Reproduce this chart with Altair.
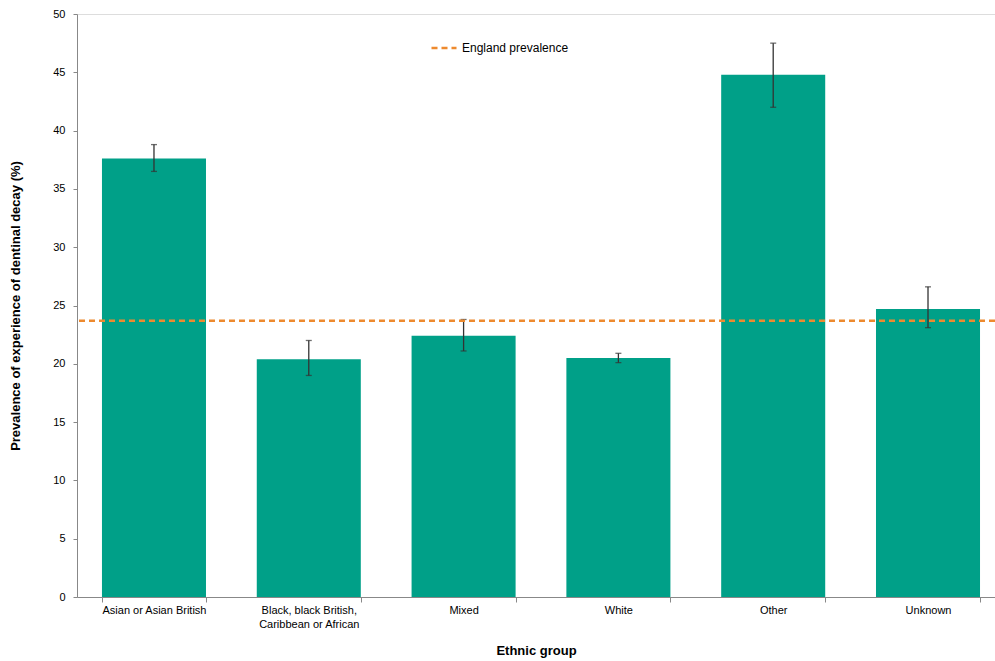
import altair as alt
import pandas as pd

groups = ["Asian or Asian British", "Black, black British, Caribbean or African",
          "Mixed", "White", "Other", "Unknown"]
prevalence = [37.6, 20.4, 22.4, 20.5, 44.8, 24.7]
lower = [36.5, 19.0, 21.1, 20.1, 42.0, 23.1]
upper = [38.8, 22.0, 23.8, 20.9, 47.5, 26.6]
england_value = [23.7]
england_label = ["England prevalence"]
y_ticks = [0, 5, 10, 15, 20, 25, 30, 35, 40, 45, 50]

FONT = "Liberation Sans"
BAR = "#00A088"
ORANGE = "#EE8A2E"

df = pd.DataFrame({"group": groups, "prevalence": prevalence,
                   "lower": lower, "upper": upper})
eng = pd.DataFrame({"value": england_value, "series": england_label})

label_expr = ("datum.value == 'Black, black British, Caribbean or African' ? "
              "['Black, black British,', 'Caribbean or African'] : datum.label")

x = alt.X("group:N", sort=groups,
          scale=alt.Scale(paddingInner=0.328, paddingOuter=0.129, align=0.625),
          axis=alt.Axis(title="Ethnic group", labelAngle=0, labelExpr=label_expr,
                        tickBand="extent", tickSize=5, labelPadding=2,
                        labelLineHeight=14, labelFontSize=11, labelFont=FONT,
                        labelColor="#000", domainColor="#888", tickColor="#888",
                        titleFont=FONT, titleFontSize=13, titleFontWeight="bold",
                        titlePadding=15, titleColor="#000"))

yscale = alt.Scale(domain=[0, 50], nice=False)
yaxis = alt.Axis(title="Prevalence of experience of dentinal decay (%)",
                 values=y_ticks, grid=False, tickSize=4, labelPadding=8,
                 labelFont=FONT, labelFontSize=11, labelColor="#000",
                 domainColor="#888", tickColor="#888",
                 titleFont=FONT, titleFontSize=13, titleFontWeight="bold",
                 titlePadding=30, titleColor="#000")

base = alt.Chart(df)

bars = base.mark_bar(color=BAR).encode(
    x=x, y=alt.Y("prevalence:Q", scale=yscale, axis=yaxis))

err = base.mark_rule(color="#333", strokeWidth=1.3).encode(
    x=alt.X("group:N", sort=groups), y="lower:Q", y2="upper:Q")

cap_hi = base.mark_tick(color="#333", size=6, thickness=1.3).encode(
    x=alt.X("group:N", sort=groups), y="upper:Q")
cap_lo = base.mark_tick(color="#333", size=6, thickness=1.3).encode(
    x=alt.X("group:N", sort=groups), y="lower:Q")

eng_rule = alt.Chart(eng).mark_rule(strokeDash=[6, 4], strokeWidth=2.5).encode(
    y=alt.Y("value:Q", scale=yscale),
    color=alt.Color("series:N", scale=alt.Scale(range=[ORANGE]),
                    legend=alt.Legend(title=None, orient="none", legendX=353,
                                      legendY=20, symbolType="stroke",
                                      symbolStrokeWidth=2.5, symbolDash=[6, 4],
                                      symbolSize=625, labelFont=FONT,
                                      labelFontSize=12, labelColor="#000",
                                      labelOffset=4)))

chart = alt.layer(bars, err, cap_hi, cap_lo, eng_rule).properties(
    width=918, height=583,
    autosize=alt.AutoSizeParams(type="none"),
    padding={"left": 77, "top": 14, "right": 0, "bottom": 64},
).configure_view(strokeWidth=0).configure(background="white")

chart.save("out.html", embed_options={"renderer": "svg", "actions": False})
